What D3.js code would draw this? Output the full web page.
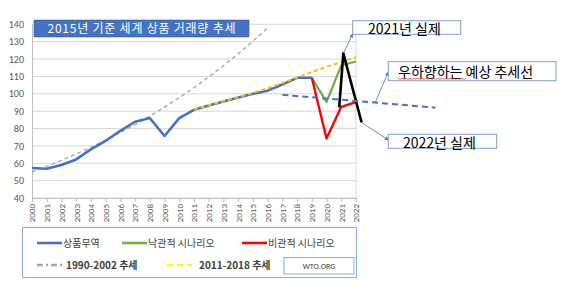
<!DOCTYPE html>
<html>
<head>
<meta charset="utf-8">
<script src="https://cdn.jsdelivr.net/npm/d3@7"></script>
<style>
  body { margin: 0; background: #fff; }
  text { font-family: "Noto Sans CJK KR", "Noto Sans", sans-serif; }
</style>
</head>
<body>
<div id="vis"></div>
<script>
    // data (index, 2015 = 100)
    var years = d3.range(2000, 2023);
    var tradeYears = d3.range(2000, 2020),
        tradeVals = [57.3, 56.8, 59.0, 62.2, 68.0, 72.9, 78.7, 83.9, 86.0, 75.7, 86.0, 90.8, 93.2, 95.6, 97.9, 100.0, 101.8, 105.3, 109.2, 109.2];
    var scenYears = [2019, 2020, 2021, 2022],
        optimistic = [109.2, 95.2, 116.4, 118.6],
        pessimistic = [109.2, 74.3, 92.5, 95.2];
    var trend90Years = d3.range(2000, 2017),
        trend90Vals = [55.0, 58.2, 61.7, 65.4, 69.2, 73.3, 77.7, 82.3, 87.1, 92.3, 97.8, 103.5, 109.7, 116.2, 123.0, 130.3, 138.0];
    var trend11Years = d3.range(2011, 2023),
        trend11Vals = [91.0, 93.4, 95.7, 98.1, 100.6, 103.2, 106.2, 109.4, 112.5, 115.5, 118.3, 121.0];
    var actualYears = [2020.86, 2021.14, 2022.38],
        actualVals = [92.2, 123.3, 83.5];
    var downYears = [2017.0, 2027.4],
        downVals = [99.4, 92.0];
    var yTicks = d3.range(40, 141, 10);

    var W = 567, H = 292;
    var svg = d3.select("#vis").append("svg").attr("width", W).attr("height", H);

    var x = d3.scaleLinear().domain([2000, 2022]).range([32, 356]),
        y = d3.scaleLinear().domain([40, 140]).range([198, 24.3]);

    // gridlines
    svg.append("g").selectAll("line").data(yTicks).join("line")
        .attr("x1", x(2000)).attr("x2", x(2022))
        .attr("y1", d => y(d)).attr("y2", d => y(d))
        .attr("stroke", "#d9d9d9").attr("stroke-width", 1);
    svg.append("line").attr("x1", x(2022)).attr("x2", x(2022)).attr("y1", y(140)).attr("y2", y(40))
        .attr("stroke", "#d9d9d9");

    // axes
    var yAxis = svg.append("g").attr("transform", "translate(" + x(2000) + ",0)")
        .call(d3.axisLeft(y).tickValues(yTicks).tickSize(0).tickPadding(8));
    yAxis.select(".domain").attr("stroke", "#bfbfbf");
    yAxis.selectAll("text").attr("fill", "#595959").style("font-size", "10px")
        .style("font-family", "Calibri, 'Liberation Sans', Arial, sans-serif");

    var xAxis = svg.append("g").attr("transform", "translate(0," + y(40) + ")")
        .call(d3.axisBottom(x).tickValues(years).tickFormat(d3.format("d")).tickSize(4).tickSizeOuter(0));
    xAxis.select(".domain").attr("stroke", "#bfbfbf");
    xAxis.selectAll(".tick line").attr("stroke", "#bfbfbf");
    xAxis.selectAll("text").attr("fill", "#595959").style("font-size", "9px")
        .style("font-family", "Calibri, 'Liberation Sans', Arial, sans-serif")
        .attr("transform", "rotate(-90)").attr("text-anchor", "end")
        .attr("x", -6).attr("y", 0).attr("dy", "0.32em");

    var line = d3.line().x(d => x(d[0])).y(d => y(d[1]));

    function draw(xs, vs, color, width, dash) {
        return svg.append("path").datum(d3.zip(xs, vs))
            .attr("d", line).attr("fill", "none")
            .attr("stroke", color).attr("stroke-width", width)
            .attr("stroke-dasharray", dash || null)
            .attr("stroke-linejoin", "round");
    }

    draw(trend90Years, trend90Vals, "#a5a5a5", 1.3, "4,3");
    draw(tradeYears, tradeVals, "#4472c4", 2.6);
    draw(trend11Years, trend11Vals, "#ffc000", 2, "4,3");
    draw(scenYears, optimistic, "#70ad47", 2.2);
    draw(scenYears, pessimistic, "#ff0000", 2.4);
    draw(actualYears, actualVals, "#000000", 2.6);
    draw(downYears, downVals, "#4472c4", 2, "6,4");

    // title box
    svg.append("rect").attr("x", 34).attr("y", 20).attr("width", 215).attr("height", 17)
        .attr("fill", "#4472c4").attr("stroke", "#2f528f").attr("stroke-width", 0.5);
    svg.append("text").attr("x", 141.5).attr("y", 33).attr("text-anchor", "middle")
        .attr("fill", "#fff").style("font-size", "12px").attr("textLength", 188)
        .text("2015년 기준 세계 상품 거래량 추세");

    // annotations
    svg.append("defs").append("marker").attr("id", "arr")
        .attr("viewBox", "0 0 10 10").attr("refX", 9).attr("refY", 5)
        .attr("markerWidth", 5).attr("markerHeight", 5).attr("orient", "auto")
        .append("path").attr("d", "M0,0L10,5L0,10z").attr("fill", "#4472c4");

    var notes = [
        { text: "2021년 실제", bx: 352.7, by: 20.7, bw: 108, bh: 13.6, tx: 368, ty: 33.5, from: [2021.14, 123.3], to: [352.7, 34] },
        { text: "우하향하는 예상 추세선", bx: 388.3, by: 61.7, bw: 167.7, bh: 19, tx: 398, ty: 77, from: [2023.3, 94.9], to: [388.3, 72] },
        { text: "2022년 실제", bx: 388.3, by: 134.3, bw: 108.4, bh: 14, tx: 403, ty: 147.5, from: [2022.38, 83.5], to: [388.3, 140] }
    ];
    notes.forEach(function (n) {
        svg.append("line").attr("x1", x(n.from[0])).attr("y1", y(n.from[1]))
            .attr("x2", n.to[0]).attr("y2", n.to[1])
            .attr("stroke", "#4472c4").attr("stroke-width", 0.8).attr("marker-end", "url(#arr)");
        svg.append("rect").attr("x", n.bx).attr("y", n.by).attr("width", n.bw).attr("height", n.bh)
            .attr("fill", "#fff").attr("stroke", "#7f9ed6").attr("stroke-width", 1);
        svg.append("text").attr("x", n.tx).attr("y", n.ty).attr("fill", "#000")
            .style("font-size", "14px").text(n.text);
    });
    // spell-check squiggle under 우하향하는
    var sq = d3.range(398, 467, 2).map((v, i) => [v, i % 2 ? 79.3 : 78.3]);
    svg.append("path").attr("d", d3.line()(sq)).attr("fill", "none")
        .attr("stroke", "#ff0000").attr("stroke-width", 0.6);

    // legend
    svg.append("rect").attr("x", 22.5).attr("y", 227.5).attr("width", 334).attr("height", 50)
        .attr("fill", "#fff").attr("stroke", "#8faadc").attr("stroke-width", 1);

    var legend = [
        { label: "상품무역", color: "#4472c4", dash: null, lx: 37, ly: 243, tx: 63 },
        { label: "낙관적 시나리오", color: "#70ad47", dash: null, lx: 122, ly: 243, tx: 148 },
        { label: "비관적 시나리오", color: "#ff0000", dash: null, lx: 242, ly: 243, tx: 268 },
        { label: "1990-2002 추세", color: "#a5a5a5", dash: "6,3,2,3", lx: 37, ly: 265, tx: 66 },
        { label: "2011-2018 추세", color: "#ffff00", dash: "6,4", lx: 167, ly: 265, tx: 199 }
    ];
    var lg = svg.append("g").selectAll("g").data(legend).join("g");
    lg.append("line").attr("x1", d => d.lx).attr("x2", d => d.lx + 25)
        .attr("y1", d => d.ly).attr("y2", d => d.ly)
        .attr("stroke", d => d.color).attr("stroke-width", 2.6)
        .attr("stroke-dasharray", d => d.dash);
    lg.append("text").attr("x", d => d.tx).attr("y", d => d.ly + 3.5)
        .attr("fill", "#404040").style("font-size", "10px")
        .style("font-weight", d => d.dash ? "bold" : null).text(d => d.label);

    svg.append("rect").attr("x", 284).attr("y", 257.5).attr("width", 70).attr("height", 16.5)
        .attr("fill", "#fff").attr("stroke", "#8faadc").attr("stroke-width", 1);
    svg.append("text").attr("x", 319).attr("y", 269).attr("text-anchor", "middle")
        .attr("fill", "#404040").style("font-size", "8px")
        .style("font-family", "Calibri, 'Liberation Sans', Arial, sans-serif")
        .text("WTO.ORG");
</script>
</body>
</html>
